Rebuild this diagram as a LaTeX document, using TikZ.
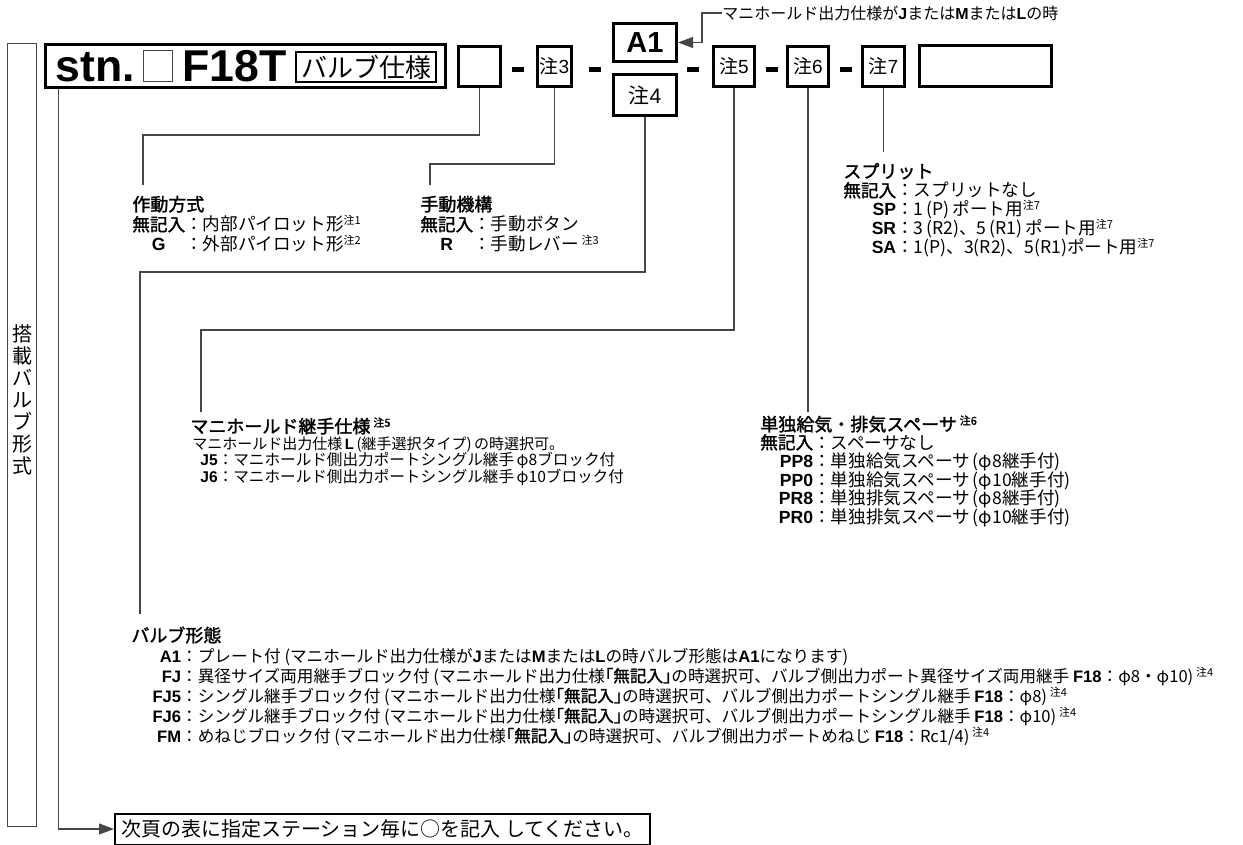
\documentclass[tikz,border=0pt]{standalone}
\usepackage{fontspec}
\setmainfont{Noto Sans CJK JP}[BoldFont={Noto Sans CJK JP},BoldFeatures={FakeBold=1.6}]
\newfontfamily\hv{Liberation Sans}
\usetikzlibrary{arrows.meta,positioning}
\definecolor{lineGray}{RGB}{70,70,70}
\newcommand\lb[1]{{\hv\bfseries #1}}
\newcommand\chu[1]{\raisebox{0.35em}{\fontsize{5.5}{6}\selectfont 注#1}}

\begin{document}
\begin{tikzpicture}[x=0.5pt,y=-0.5pt,
    cbox/.style={draw,line width=1.4pt,inner sep=0pt},
    hbar/.style={fill=black,minimum width=6pt,minimum height=2.5pt,inner sep=0pt},
    conn/.style={draw=lineGray,line width=0.55pt},
    arr/.style={conn,-{Triangle[length=7.5pt,width=5.5pt]}},
    ttl/.style={anchor=base west,inner sep=0pt,font=\fontsize{9}{10}\selectfont\bfseries},
    row/.style={anchor=base west,inner sep=0pt,font=\fontsize{8.8}{10}\selectfont},
    rowsm/.style={row,font=\fontsize{7.8}{9}\selectfont},
    rowv/.style={row,font=\fontsize{8.3}{10}\selectfont}]
  \useasboundingbox (0,0) rectangle (1243,845);

  % header line
  \node[draw=lineGray,line width=0.5pt,minimum width=14.5pt,minimum height=391pt,inner sep=0pt] (side) at (21.5,435) {};
  \node[align=center,inner sep=0pt,font=\fontsize{10}{11}\selectfont] (sidetxt) at (22,400) {搭\\載\\バ\\ル\\ブ\\形\\式};
  \node[draw,line width=1.1pt,minimum width=200pt,minimum height=21.5pt,inner sep=0pt] (hdr) at (245.5,66) {};
  \node[anchor=base west,inner sep=0pt,font=\hv\bfseries\fontsize{22.3}{24}\selectfont] (stn) at (55,82) {stn.};
  \node[draw=lineGray,line width=0.5pt,minimum width=14.5pt,minimum height=15.5pt,inner sep=0pt] (sq) at (158,66) {};
  \node[anchor=base west,inner sep=0pt,font=\hv\bfseries\fontsize{22.3}{24}\selectfont] (f18t) at (182,82) {F18T};
  \node[draw,line width=0.6pt,minimum width=70pt,minimum height=15pt,inner sep=0pt,font=\fontsize{13}{14}\selectfont] (vspec) at (366,67) {バルブ仕様};

  \node[cbox,minimum width=21.1pt,minimum height=20.1pt] (b1) at (479.5,66.5) {};
  \node[cbox,minimum width=17.1pt,minimum height=20.1pt,font=\fontsize{9.5}{10}\selectfont] (n3) at (554.5,66.5) {注{\hv 3}};
  \node[cbox,minimum width=31.6pt,minimum height=19.1pt,font=\hv\bfseries\fontsize{14.5}{15}\selectfont] (a1) at (645,42.5) {A1};
  \node[cbox,minimum width=31.6pt,minimum height=20.6pt,font=\fontsize{10.5}{11}\selectfont] (n4) at (645,95) {注{\hv 4}};
  \node[cbox,minimum width=20.6pt,minimum height=20.1pt,font=\fontsize{9.5}{10}\selectfont] (n5) at (734,66.5) {注{\hv 5}};
  \node[cbox,minimum width=20.6pt,minimum height=20.1pt,font=\fontsize{9.5}{10}\selectfont] (n6) at (808,66.5) {注{\hv 6}};
  \node[cbox,minimum width=21.1pt,minimum height=20.1pt,font=\fontsize{9.5}{10}\selectfont] (n7) at (883.5,66.5) {注{\hv 7}};
  \node[cbox,minimum width=66.1pt,minimum height=20.6pt] (last) at (985.5,66) {};
  \foreach \x [count=\i] in {517.5,595,693,772,845.5}
    \node[hbar] (d\i) at (\x,69.5) {};

  \node[anchor=west,inner sep=0pt,font=\fontsize{8}{9}\selectfont] (cond) at (722,13)
    {マニホールド出力仕様が\lb{J}または\lb{M}または\lb{L}の時};
  \coordinate (bend) at (702,42.5);
  \draw[arr] (cond.west) -| (bend) -- (a1.east);

  % 作動方式
  \node[ttl] (actT) at (132,211) {作動方式};
  \node[row] (act1) at (132,231) {{\bfseries 無記入}：内部パイロット形\chu{1}};
  \node[row] (act2) at (132,251) {\makebox[3em][c]{\lb{G}}：外部パイロット形\chu{2}};

  % 手動機構
  \node[ttl] (manT) at (420,211) {手動機構};
  \node[row] (man1) at (420,231) {{\bfseries 無記入}：手動ボタン};
  \node[row] (man2) at (420,251) {\makebox[3em][c]{\lb{R}}：手動レバー\,\chu{3}};

  % スプリット
  \node[ttl] (splT) at (843,178) {スプリット};
  \node[row] (spl1) at (843,197) {{\bfseries 無記入}：スプリットなし};
  \node[row] (spl2) at (843,216) {\makebox[3em][r]{\lb{SP}}：1\,(P)\,ポート用\chu{7}};
  \node[row] (spl3) at (843,235) {\makebox[3em][r]{\lb{SR}}：3\,(R2)、5\,(R1)\,ポート用\chu{7}};
  \node[row] (spl4) at (843,254) {\makebox[3em][r]{\lb{SA}}：1(P)、3(R2)、5(R1)ポート用\chu{7}};

  % マニホールド継手仕様
  \node[ttl] (mfjT) at (190,433) {マニホールド継手仕様\,\chu{5}};
  \node[row,font=\fontsize{7.5}{9}\selectfont] (mfj0) at (192,449) {マニホールド出力仕様\,\lb{L}\,(継手選択タイプ)\,の時選択可。};
  \node[rowsm] (mfj1) at (200,466) {\lb{J5}：マニホールド側出力ポートシングル継手\,φ8ブロック付};
  \node[rowsm] (mfj2) at (200,482) {\lb{J6}：マニホールド側出力ポートシングル継手\,φ10ブロック付};

  % 単独給気・排気スペーサ
  \node[ttl] (spcT) at (760,431) {単独給気・排気スペーサ\,\chu{6}};
  \node[row] (spc1) at (760,449) {{\bfseries 無記入}：スペーサなし};
  \node[row] (spc2) at (760,467.5) {\makebox[3em][r]{\lb{PP8}}：単独給気スペーサ\,(φ8継手付)};
  \node[row] (spc3) at (760,486) {\makebox[3em][r]{\lb{PP0}}：単独給気スペーサ\,(φ10継手付)};
  \node[row] (spc4) at (760,504.5) {\makebox[3em][r]{\lb{PR8}}：単独排気スペーサ\,(φ8継手付)};
  \node[row] (spc5) at (760,523) {\makebox[3em][r]{\lb{PR0}}：単独排気スペーサ\,(φ10継手付)};

  % バルブ形態
  \node[ttl] (vlvT) at (131,642) {バルブ形態};
  \node[rowv] (vlv1) at (131,662) {\makebox[3em][r]{\lb{A1}}：プレート付 (マニホールド出力仕様が\lb{J}または\lb{M}または\lb{L}の時バルブ形態は\lb{A1}になります)};
  \node[rowv] (vlv2) at (131,682) {\makebox[3em][r]{\lb{FJ}}：異径サイズ両用継手ブロック付 (マニホールド出力仕様{\bfseries ｢無記入｣}の時選択可、バルブ側出力ポート異径サイズ両用継手 \lb{F18}：φ8・φ10)\,\chu{4}};
  \node[rowv] (vlv3) at (131,702) {\makebox[3em][r]{\lb{FJ5}}：シングル継手ブロック付 (マニホールド出力仕様{\bfseries ｢無記入｣}の時選択可、バルブ側出力ポートシングル継手 \lb{F18}：φ8)\,\chu{4}};
  \node[rowv] (vlv4) at (131,722) {\makebox[3em][r]{\lb{FJ6}}：シングル継手ブロック付 (マニホールド出力仕様{\bfseries ｢無記入｣}の時選択可、バルブ側出力ポートシングル継手 \lb{F18}：φ10)\,\chu{4}};
  \node[rowv] (vlv5) at (131,742) {\makebox[3em][r]{\lb{FM}}：めねじブロック付 (マニホールド出力仕様{\bfseries ｢無記入｣}の時選択可、バルブ側出力ポートめねじ \lb{F18}：Rc1/4)\,\chu{4}};

  \node[draw,line width=1pt,anchor=west,inner sep=3pt,minimum height=15.5pt,font=\fontsize{10}{11}\selectfont] (nextpg) at (114,829)
    {次頁の表に指定ステーション毎に○を記入 してください。};

  % leaders
  \coordinate (t1) at (143,135);  \coordinate (e1) at (143,185);
  \coordinate (t2) at (430,164);  \coordinate (e2) at (430,185);
  \coordinate (t3) at (140,272);  \coordinate (e3) at (140,614);
  \coordinate (t4) at (201,330);  \coordinate (e4) at (201,412);
  \coordinate (e5) at (808,412);
  \coordinate (e6) at (883.5,152);
  \draw[conn] (b1.south) |- (t1) -- (e1);
  \draw[conn] (n3.south) |- (t2) -- (e2);
  \draw[conn] (n4.south) |- (t3) -- (e3);
  \draw[conn] (n5.south) |- (t4) -- (e4);
  \draw[conn] (n6.south) -- (e5);
  \draw[conn] (n7.south) -- (e6);
  \draw[arr] ([xshift=7pt]hdr.south west) |- (nextpg.west);
\end{tikzpicture}
\end{document}
